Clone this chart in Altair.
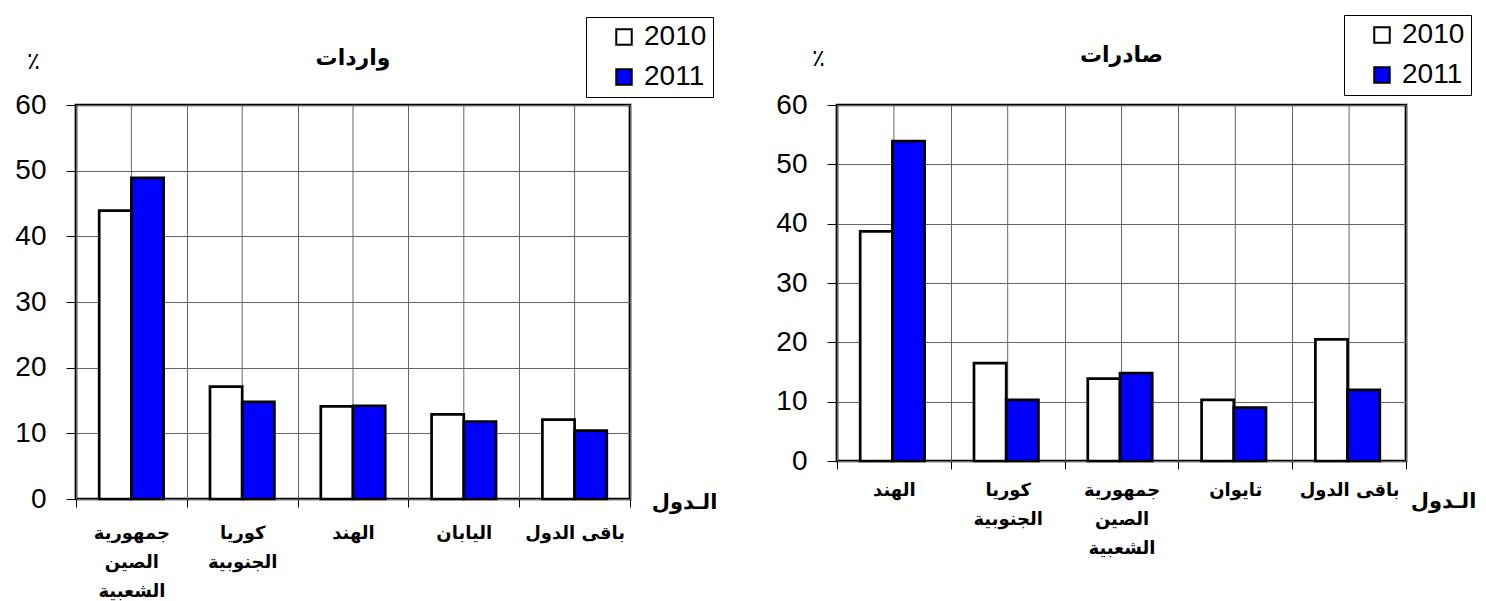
import altair as alt
import pandas as pd

# ---- data ----
years = ["2010", "2011"]
year_colors = ["#FFFFFF", "#0000FF"]
y_ticks = [0, 10, 20, 30, 40, 50, 60]

imp_title = "واردات"
imp_countries = ["جمهورية\nالصين\nالشعبية", "كوريا\nالجنوبية", "الهند", "اليابان", "باقى الدول"]
imp_2010 = [43.9, 17.1, 14.1, 12.9, 12.1]
imp_2011 = [48.9, 14.8, 14.2, 11.8, 10.4]

exp_title = "صادرات"
exp_countries = ["الهند", "كوريا\nالجنوبية", "جمهورية\nالصين\nالشعبية", "تايوان", "باقى الدول"]
exp_2010 = [38.7, 16.5, 13.9, 10.3, 20.5]
exp_2011 = [53.9, 10.3, 14.8, 9.0, 12.0]

x_title = "الـدول"
y_title = "٪"

AR_FONT = "DejaVu Sans"
NUM_FONT = "Liberation Sans"
GRID = "#666666"
LABEL_EXPR = "indexof(datum.label, '\\n') < 0 ? datum.label : split(datum.label, '\\n')"


def panel(title, countries, v2010, v2011, w, h, legend_x, legend_y,
          title_off, pct_x, pct_y, xt_x, xt_y, label_pad):
    rows = []
    for c, a, b in zip(countries, v2010, v2011):
        rows.append({"country": c, "year": years[0], "value": a})
        rows.append({"country": c, "year": years[1], "value": b})
    df = pd.DataFrame(rows)
    cdf = pd.DataFrame({"country": countries})

    x_enc = alt.X(
        "country:N", sort=countries,
        scale=alt.Scale(paddingInner=0, paddingOuter=0),
        axis=alt.Axis(
            title=x_title, titleFont=AR_FONT, titleFontSize=21, titleFontWeight="bold",
            titleX=xt_x, titleY=xt_y, titleAlign="center", titleBaseline="middle",
            titleColor="black",
            labelExpr=LABEL_EXPR, labelAngle=0, labelAlign="center",
            labelFont=AR_FONT, labelFontSize=18, labelFontWeight="bold",
            labelLineHeight=29, labelPadding=label_pad, labelColor="black",
            tickBand="extent", ticks=True, tickSize=8, tickColor="black", tickWidth=1,
            grid=True, gridColor=GRID, gridWidth=1, gridOpacity=1,
            domain=False,
        ),
    )
    y_scale = alt.Scale(domain=[0, 60], nice=False)
    y_axis = alt.Axis(
        values=y_ticks, title=y_title, titleAngle=0, titleX=pct_x, titleY=pct_y,
        titleAlign="center", titleBaseline="middle", titleFont=AR_FONT,
        titleFontSize=24, titleFontWeight="normal", titleColor="black",
        labelFont=NUM_FONT, labelFontSize=28, labelPadding=20, labelColor="black",
        tickSize=10, tickColor="black", tickWidth=1,
        grid=True, gridColor=GRID, gridWidth=1, gridOpacity=1, domain=False,
    )

    rules = alt.Chart(cdf).mark_rule(color=GRID, strokeWidth=1).encode(
        x=alt.X("country:N", sort=countries),
        y=alt.datum(60, scale=y_scale, axis=y_axis),
        y2=alt.datum(0),
    )

    bars = alt.Chart(df).mark_bar(stroke="black", strokeWidth=2.7, opacity=1).encode(
        x=x_enc,
        xOffset=alt.XOffset("year:N", sort=years,
                            scale=alt.Scale(paddingOuter=0.72, paddingInner=0)),
        y=alt.Y("value:Q", scale=y_scale, axis=y_axis),
        fill=alt.Fill(
            "year:N", sort=years,
            scale=alt.Scale(domain=years, range=year_colors),
            legend=alt.Legend(
                orient="none", legendX=legend_x, legendY=legend_y, title=None,
                strokeColor="black", fillColor="white", padding=6,
                symbolOffset=18,
                symbolType="square", symbolSize=240, symbolStrokeColor="black",
                symbolStrokeWidth=2,
                labelFont=NUM_FONT, labelFontSize=28, labelColor="black",
                labelOffset=6, rowPadding=12,
            ),
        ),
    )

    return alt.layer(rules, bars).properties(
        width=w, height=h,
        title=alt.TitleParams(
            title, font=AR_FONT, fontSize=22, fontWeight="bold", color="black",
            anchor="middle", offset=title_off,
        ),
    )


left = panel(imp_title, imp_countries, imp_2010, imp_2011, 554, 394,
             510, -88, -53, -43, -44, 608, 3, 26)
right = panel(exp_title, exp_countries, exp_2010, exp_2011, 569, 356,
              507, -90, -52, -19, -47, 606, 40, 21)

chart = alt.hconcat(left, right, spacing=55).resolve_scale(
    fill="independent"
).resolve_legend(fill="independent").properties(
    padding={"left": 5, "top": 5, "right": 0, "bottom": 5}
).configure(
    background="white",
    view=alt.ViewConfig(stroke="black", strokeWidth=2.7),
)

chart.save("out.html", embed_options={"renderer": "svg", "actions": False})
